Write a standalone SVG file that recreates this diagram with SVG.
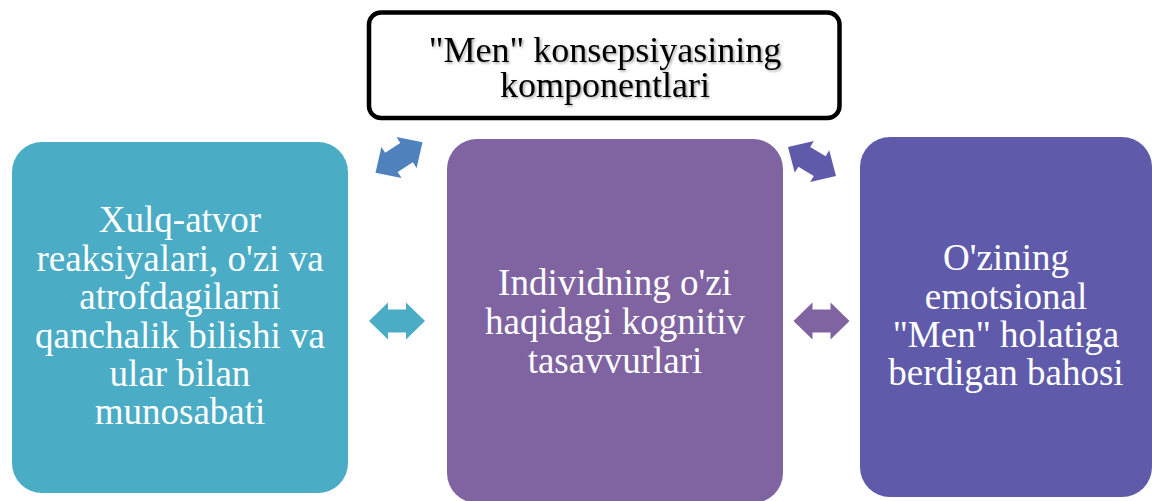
<svg xmlns="http://www.w3.org/2000/svg" width="1152" height="501" viewBox="0 0 1152 501" font-family="'Liberation Serif', 'DejaVu Serif', serif">
  <defs>
    <filter id="shadow" x="-10%" y="-20%" width="120%" height="140%">
      <feDropShadow dx="1.5" dy="1.5" stdDeviation="1" flood-color="#000" flood-opacity="0.35"/>
    </filter>
    <polygon id="dbl" points="-28,0 -9,-18.5 -9,-11.5 9,-11.5 9,-18.5 28,0 9,18.5 9,11.5 -9,11.5 -9,18.5"/>
  </defs>
  <style>
    text { font-family: 'Liberation Serif', 'DejaVu Serif', serif; }
    .lbl { font-size: 37px; text-anchor: middle; }
    .ttl { font-size: 36px; text-anchor: middle; fill: #000000; }
    .white { fill: #ffffff; }
  </style>
  <rect width="1152" height="501" fill="#ffffff"/>

  <g id="title">
    <rect x="369" y="12.5" width="470.5" height="105.5" rx="12" ry="12" fill="#ffffff" stroke="#000000" stroke-width="4.5"/>
    <g filter="url(#shadow)">
      <text class="ttl" x="605" y="62">"Men" konsepsiyasining</text>
      <text class="ttl" x="605" y="97">komponentlari</text>
    </g>
  </g>

  <g id="node-left">
    <rect x="12" y="142" width="336" height="351" rx="30" ry="30" fill="#4BACC6"/>
    <text class="lbl white" x="180" y="232">Xulq-atvor</text>
    <text class="lbl white" x="180" y="270.5">reaksiyalari, o'zi va</text>
    <text class="lbl white" x="180" y="309">atrofdagilarni</text>
    <text class="lbl white" x="180" y="347.5">qanchalik bilishi va</text>
    <text class="lbl white" x="180" y="386">ular bilan</text>
    <text class="lbl white" x="180" y="424">munosabati</text>
  </g>

  <g id="node-middle">
    <rect x="447" y="139" width="336" height="364" rx="30" ry="30" fill="#8064A2"/>
    <text class="lbl white" x="615" y="295">Individning o'zi</text>
    <text class="lbl white" x="615" y="334">haqidagi kognitiv</text>
    <text class="lbl white" x="615" y="373">tasavvurlari</text>
  </g>

  <g id="node-right">
    <rect x="860" y="137" width="292" height="360" rx="30" ry="30" fill="#5F5BAA"/>
    <text class="lbl white" x="1006" y="270">O'zining</text>
    <text class="lbl white" x="1006" y="309">emotsional</text>
    <text class="lbl white" x="1006" y="347">"Men" holatiga</text>
    <text class="lbl white" x="1006" y="385">berdigan bahosi</text>
  </g>

  <g id="connectors">
    <use href="#dbl" fill="#4F81BD" transform="translate(399 157.5) rotate(-33)"/>
    <use href="#dbl" fill="#5F5BAA" transform="translate(812 161.5) rotate(31)"/>
    <use href="#dbl" fill="#4BACC6" transform="translate(397 321)"/>
    <use href="#dbl" fill="#8064A2" transform="translate(821.5 321)"/>
  </g>
</svg>
